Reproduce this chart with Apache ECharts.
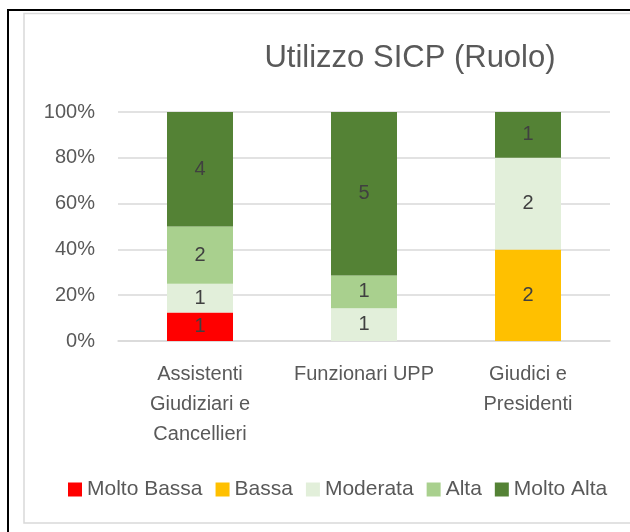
<!DOCTYPE html>
<html>
<head>
<meta charset="utf-8">
<script src="https://cdn.jsdelivr.net/npm/echarts@6/dist/echarts.min.js"></script>
<style>
html,body{margin:0;padding:0;background:#fff;}
#c{width:630px;height:532px;}
</style>
</head>
<body>
<div id="c"></div>
<script>
const categories = ["Assistenti\nGiudiziari e\nCancellieri", "Funzionari UPP", "Giudici e\nPresidenti"];
const seriesNames = ["Molto Bassa", "Bassa", "Moderata", "Alta", "Molto Alta"];
const moltoBassa = [1, 0, 0];
const bassa = [0, 0, 2];
const moderata = [1, 1, 2];
const alta = [2, 1, 0];
const moltoAlta = [4, 5, 1];
const colors = ["#FF0000", "#FFC000", "#E2EFDA", "#A9D08E", "#548235"];
const yTicks = [0, 20, 40, 60, 80, 100];

const counts = [moltoBassa, bassa, moderata, alta, moltoAlta];
const totals = categories.map((_, i) => counts.reduce((s, a) => s + a[i], 0));
const FONT = "'Liberation Sans', Arial, sans-serif";

const chart = echarts.init(document.getElementById('c'));
chart.setOption({
  animation: false,
  textStyle: { fontFamily: FONT },
  graphic: [
    { type: 'rect', shape: { x: 8, y: 10, width: 700, height: 700 }, style: { fill: 'none', stroke: '#000', lineWidth: 2 }, z: 0 },
    { type: 'rect', shape: { x: 24, y: 13.5, width: 700, height: 509.5 }, style: { fill: 'none', stroke: '#D9D9D9', lineWidth: 1.5 }, z: 0 }
  ],
  title: {
    text: 'Utilizzo SICP (Ruolo)',
    left: 405, top: 38, textAlign: 'center',
    textStyle: { fontFamily: FONT, fontSize: 31, fontWeight: 'normal', color: '#595959' }
  },
  legend: {
    data: seriesNames,
    left: 63, top: 474,
    itemWidth: 14, itemHeight: 14, itemGap: 13,
    icon: 'rect',
    textStyle: { fontFamily: FONT, fontSize: 21, color: '#595959' }
  },
  grid: { left: 118, right: 20, top: 112, bottom: 191, containLabel: false },
  xAxis: {
    type: 'category',
    data: categories,
    axisLine: { lineStyle: { color: '#D9D9D9', width: 1.5 } },
    axisTick: { show: false },
    axisLabel: { color: '#595959', fontSize: 20, fontFamily: FONT, lineHeight: 30, margin: 18, interval: 0 }
  },
  yAxis: {
    type: 'value', min: 0, max: 100, interval: 20,
    axisLine: { show: false }, axisTick: { show: false },
    axisLabel: { color: '#595959', fontSize: 20, fontFamily: FONT, margin: 23, formatter: v => yTicks.includes(v) ? v + '%' : '' },
    splitLine: { lineStyle: { color: '#D9D9D9', width: 1.5 } }
  },
  series: counts.map((arr, si) => ({
    name: seriesNames[si],
    type: 'bar',
    stack: 'total',
    barWidth: 66,
    itemStyle: { color: colors[si] },
    label: {
      show: true, position: 'inside', color: '#404040', fontSize: 20, fontFamily: FONT,
      formatter: p => arr[p.dataIndex] > 0 ? String(arr[p.dataIndex]) : ''
    },
    data: arr.map((v, i) => v / totals[i] * 100)
  }))
});
</script>
</body>
</html>
